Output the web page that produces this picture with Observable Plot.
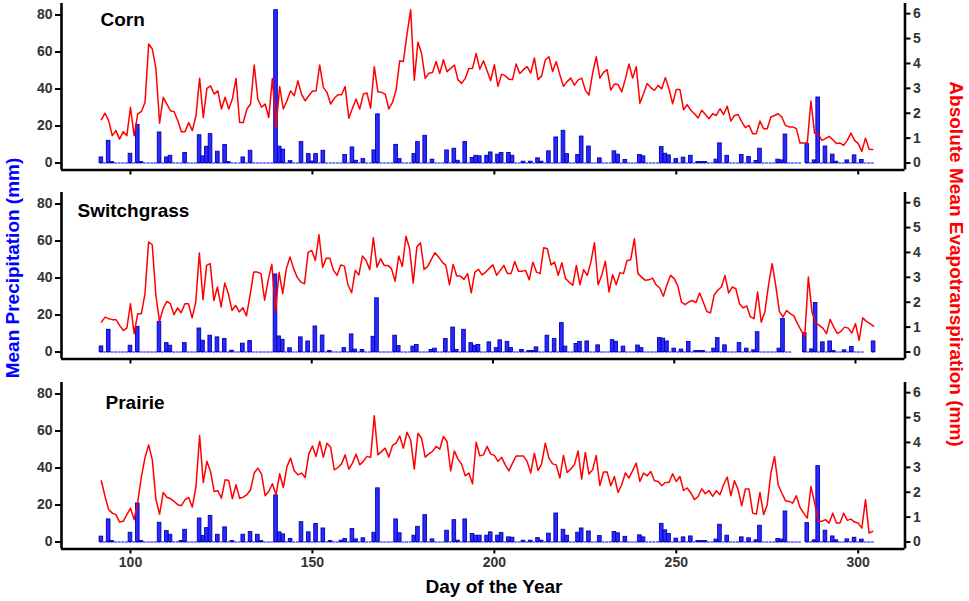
<!DOCTYPE html>
<html>
<head>
<meta charset="utf-8">
<script src="https://cdn.jsdelivr.net/npm/d3@7"></script>
<script src="https://cdn.jsdelivr.net/npm/@observablehq/plot@0.6"></script>
<style>
  body { margin: 0; background: #fff; }
  #wrap { position: relative; width: 969px; height: 601px; font-family: "Liberation Sans", Arial, sans-serif; overflow: hidden; }
  .panel { position: absolute; left: 0; }
  .title { position: absolute; font-weight: bold; font-size: 19px; line-height: 19px; white-space: nowrap; }
</style>
</head>
<body>
<div id="wrap"></div>
<script>
// ---------------- DATA ----------------
const panelNames = ["Corn", "Switchgrass", "Prairie"];
const xTicks = [100, 150, 200, 250, 300];
const precipTicks = [0, 20, 40, 60, 80];
const etTicks = [0, 1, 2, 3, 4, 5, 6];

// Daily absolute mean evapotranspiration (mm), starting at firstDay
const cornFirstDay = 92;
const cornET = [
  1.74, 2.0, 1.7, 1.1, 1.3, 0.96, 1.26, 1.1, 2.24, 1.1, 1.97, 2.07, 2.44, 4.78, 4.58, 3.78, 1.6, 2.64, 2.37, 2.1,
  2.06, 1.7, 1.26, 1.26, 1.63, 1.3, 1.9, 3.41, 1.83, 3.0, 3.1, 2.77, 2.9, 2.17, 2.64, 2.17, 2.57, 3.4, 1.63, 1.63,
  2.17, 2.37, 3.94, 2.57, 2.24, 2.37, 1.83, 3.4, 1.43, 3.07, 2.17, 2.5, 2.9, 2.7, 3.3, 2.77, 2.5, 2.7, 2.88, 2.9,
  3.94, 3.04, 2.84, 2.37, 2.6, 2.74, 2.74, 3.07, 1.8, 2.2, 2.57, 2.17,
  2.77, 2.81, 2.2, 3.87, 2.86, 2.84, 2.77, 2.17, 2.44, 2.93, 4.11, 4.08, 5.18, 6.16, 3.33, 4.85, 4.4, 3.4, 3.61, 3.64,
  4.08, 3.6, 4.15, 3.67, 3.8, 3.94, 3.35, 3.2, 3.4, 3.8, 3.8, 4.4, 3.77, 4.11, 3.71, 3.31, 3.95, 3.08, 3.57, 3.5,
  3.37, 3.35, 3.98, 3.6, 3.75, 3.87, 3.61, 4.22, 3.35, 3.5, 4.14, 4.27, 3.68, 4.07, 3.55, 3.08, 3.27, 3.41, 3.13, 3.33,
  3.41, 2.93, 2.73, 3.6, 4.27, 3.41, 3.64, 3.75, 2.93, 3.17, 3.15, 2.86, 3.37, 3.98, 3.41, 3.87, 2.4,
  2.78, 3.19, 3.03, 2.92, 3.12, 2.98, 3.43, 2.98, 2.38, 2.95, 2.95, 2.14, 2.34, 2.12, 1.98, 1.81, 2.12, 1.95, 1.78, 1.98,
  1.91, 2.18, 1.95, 2.28, 1.69, 1.91, 1.95, 1.65, 1.42, 1.51, 1.18, 1.18, 1.69, 1.38, 1.38, 1.85, 1.91, 1.98, 1.85, 1.51,
  1.45, 1.45, 1.38, 0.8, 0.8, 0.8, 2.49, 1.2, 1.18, 0.91, 0.98, 1.07, 0.94, 0.78, 0.8, 0.71, 0.91, 1.2, 0.91, 0.78,
  0.47, 1.0, 0.55, 0.54
];
const switchFirstDay = 92;
const switchET = [
  1.2, 1.4, 1.34, 1.3, 1.3, 1.07, 0.87, 0.96, 1.94, 0.74, 1.54, 1.54, 2.34, 4.42, 4.31, 2.28, 1.23, 1.74, 2.03, 1.94,
  1.5, 1.77, 1.58, 1.94, 1.94, 1.37, 2.0, 3.98, 2.1, 3.48, 3.55, 2.07, 2.61, 1.81, 2.77, 2.34, 1.67, 1.87, 1.61, 1.78,
  1.45, 2.3, 3.21, 3.21, 3.15, 2.08, 2.9, 3.53, 1.63, 3.2, 2.35, 3.35, 3.82, 3.35, 3.0, 2.81, 2.74, 4.0, 4.08, 3.68,
  4.71, 3.4, 3.77, 3.77, 3.28, 3.08,
  3.5, 3.45, 2.7, 2.38, 3.28, 3.1, 3.86, 3.68, 3.31, 4.59, 3.41, 3.75, 3.48, 3.48, 3.35, 2.84, 3.86, 3.44, 4.65, 4.15,
  2.77, 4.22, 4.39, 3.32, 3.44, 3.72, 3.99, 3.82, 3.61, 3.48, 2.7, 3.52, 3.05, 3.05, 2.92, 3.15, 2.38, 3.21, 3.32, 3.1,
  3.21, 3.37, 3.5, 3.08, 3.28, 3.48, 3.15, 3.15, 3.64, 3.24, 3.24, 3.28, 2.9, 3.61, 3.21, 3.15, 4.19, 4.15, 3.5, 3.61,
  3.08, 3.59, 2.95, 2.81, 2.68, 3.48, 2.7, 3.31, 3.08, 3.61, 4.39, 2.7, 3.08, 3.65, 2.41, 3.1, 2.7, 3.19, 3.15, 3.68,
  3.71, 4.55, 3.15,
  3.01, 2.88, 2.9, 2.97, 2.7, 2.57, 2.24, 2.7, 3.08, 2.95, 2.65, 2.01, 1.9, 2.01, 2.07, 1.98, 2.37, 2.01, 1.63, 1.57,
  2.28, 2.48, 2.61, 3.08, 2.37, 2.61, 2.54, 1.94, 1.77, 1.85, 1.41, 1.34, 2.41, 1.2, 1.61, 2.68, 3.55, 2.68, 1.63, 1.41,
  1.67, 1.54, 1.45, 1.14, 0.87, 0.6, 3.01, 1.61, 1.18, 1.07, 0.96, 0.74, 1.31, 1.0, 0.74, 0.83, 1.0, 0.96, 0.76, 1.14,
  0.47, 1.37, 1.23, 1.14, 1.04
];
const prairieFirstDay = 92;
const prairieET = [
  2.46, 1.83, 1.3, 1.16, 1.1, 0.8, 0.83, 1.1, 1.36, 0.9, 1.63, 2.63, 3.4, 3.9, 3.3, 1.7, 1.12, 1.99, 1.8, 1.74,
  1.63, 1.5, 1.46, 1.7, 1.79, 1.4, 2.23, 4.28, 2.39, 3.24, 2.83, 2.03, 2.06, 1.76, 2.5, 2.47, 1.74, 2.3, 1.76, 1.8,
  1.9, 2.1, 2.77, 2.97, 2.74, 1.86, 2.03, 2.34, 1.9, 2.74, 2.19, 3.03, 3.37, 2.86, 2.7, 2.77, 2.59, 3.54, 3.86, 3.44,
  4.04, 3.41, 3.97, 3.81, 2.9, 2.99, 3.14, 3.5, 2.93, 3.17, 3.53, 3.1,
  3.24, 3.44, 3.4, 5.07, 3.5, 3.64, 3.77, 3.41, 3.88, 3.97, 4.26, 3.77, 4.41, 4.1, 2.93, 4.37, 4.17, 3.41, 3.54, 3.64,
  3.84, 3.73, 4.24, 4.04, 2.86, 3.66, 3.33, 3.13, 2.66, 2.77, 2.34, 4.01, 3.46, 3.5, 3.84, 3.53, 3.48, 3.24, 3.4, 3.1,
  2.86, 3.17, 3.46, 3.46, 3.46, 3.24, 2.77, 3.57, 2.87, 3.14, 3.97, 3.37, 3.14, 3.1, 2.57, 3.48, 2.79, 2.93, 3.1, 3.66,
  2.53, 3.6, 2.73, 2.9, 3.48, 2.27, 2.81, 2.81, 2.26, 2.63, 1.99, 2.3, 2.77, 2.57, 2.87, 3.17, 2.43,
  2.77, 2.66, 2.83, 2.46, 2.43, 2.26, 2.39, 2.39, 2.74, 2.43, 2.63, 2.07, 2.17, 1.97, 1.7, 1.83, 2.14, 1.94, 2.07, 1.83,
  2.06, 1.9, 2.3, 2.61, 1.86, 2.46, 2.1, 1.46, 2.13, 2.13, 1.16, 1.12, 1.99, 1.1, 1.5, 2.77, 3.44, 2.3, 1.97, 1.66,
  1.63, 1.56, 1.86, 1.39, 1.16, 0.96, 2.23, 1.59, 0.83, 0.83, 0.9, 0.76, 1.16, 0.76, 0.76, 1.16, 0.87, 0.92, 0.8, 0.76,
  0.56, 1.7, 0.36, 0.43
];

// Rain days (day of year) and mean precipitation (mm); other days are 0
const cornRainDays = [92, 94, 95, 100, 102, 103, 108, 110, 111, 115, 119, 120, 121, 122, 124, 126, 127, 131, 133, 140,
  141, 142, 144, 147, 149, 150, 151, 153, 159, 161, 162, 164, 167, 168, 173, 174, 178, 179, 181, 183,
  187, 189, 190, 192, 194, 195, 196, 198, 199, 201, 202, 204, 205, 208, 210, 212, 213, 215, 217, 219,
  220, 223, 224, 226, 229, 233, 234, 236, 240, 241, 246, 247, 248, 250, 252, 254, 256, 257, 258, 261,
  262, 264, 268, 270, 272, 273, 278, 279, 280, 286, 288, 289, 291, 293, 294, 297, 299, 301];
const cornRain = [3.0, 12.0, 0.5, 5.0, 20.6, 0.5, 16.5, 3.0, 3.9, 5.4, 15.0, 3.6, 8.8, 15.6, 6.1, 9.7, 0.5, 3.0, 6.6, 82.6,
  8.8, 7.2, 1.0, 11.3, 4.8, 0.8, 4.8, 6.6, 4.3, 8.4, 1.2, 2.1, 6.8, 26.3, 9.8, 2.1, 4.8, 11.3, 14.7, 1.8,
  6.8, 7.7, 1.2, 11.3, 2.7, 3.9, 3.6, 3.9, 5.7, 4.5, 5.4, 5.4, 3.9, 0.7, 0.7, 2.5, 0.7, 6.3, 13.8, 17.4,
  4.8, 4.3, 14.3, 8.9, 2.5, 6.3, 4.5, 1.6, 4.3, 3.6, 8.6, 5.0, 4.1, 2.1, 2.9, 3.9, 0.5, 0.5, 0.5, 1.8,
  10.6, 3.9, 4.3, 3.2, 1.1, 7.7, 1.8, 1.4, 15.4, 10.2, 1.4, 35.4, 8.9, 4.5, 0.7, 1.4, 4.1, 1.6];
const cornMissing = [285];

const switchRainDays = [92, 94, 100, 102, 108, 110, 111, 115, 119, 120, 122, 124, 126, 128, 131, 133, 140, 141, 142, 144,
  147, 149, 151, 153, 155, 159, 161, 162, 164, 167, 168, 173, 174, 178, 179, 183, 184, 187, 189, 190,
  192, 194, 195, 196, 199, 201, 202, 204, 205, 208, 210, 211, 212, 215, 217, 219, 220, 223, 224, 226,
  229, 233, 234, 236, 240, 241, 246, 247, 248, 250, 252, 254, 256, 257, 258, 261, 262, 264, 268, 270,
  272, 273, 279, 280, 286, 288, 289, 291, 293, 294, 297, 299, 305];
const switchRain = [3.0, 12.0, 3.4, 13.6, 16.3, 4.8, 3.4, 4.8, 12.7, 6.1, 8.8, 7.9, 7.0, 0.7, 4.5, 5.9, 41.9, 8.4, 6.6, 2.0,
  7.9, 5.7, 13.8, 8.9, 0.5, 2.1, 9.5, 1.3, 1.1, 8.2, 29.0, 8.8, 3.2, 2.9, 3.8, 1.1, 1.8, 7.0, 13.2, 1.1,
  12.0, 4.8, 3.4, 3.8, 5.2, 2.1, 6.3, 5.4, 2.1, 1.1, 0.5, 0.5, 2.5, 8.8, 7.0, 15.6, 2.9, 4.3, 5.4, 5.7,
  3.6, 6.4, 5.5, 2.9, 3.5, 2.1, 7.5, 7.2, 5.7, 1.8, 1.3, 5.4, 0.5, 0.5, 0.5, 1.8, 7.5, 3.6, 4.8, 1.8,
  0.9, 10.7, 1.8, 17.9, 10.2, 1.4, 26.5, 5.2, 5.7, 0.5, 0.9, 2.7, 5.7];
const switchMissing = [283, 284, 285, 303, 304];

const prairieRainDays = [92, 94, 95, 100, 102, 103, 108, 110, 111, 114, 115, 119, 120, 121, 122, 124, 126, 128, 131, 133,
  135, 136, 140, 141, 142, 144, 147, 149, 151, 153, 155, 158, 159, 161, 162, 164, 167, 168, 173, 174,
  178, 179, 181, 183, 187, 189, 190, 192, 194, 195, 196, 198, 199, 201, 202, 204, 205, 208, 210, 212,
  213, 215, 217, 219, 220, 223, 224, 226, 229, 233, 234, 236, 240, 241, 246, 247, 248, 250, 252, 254,
  256, 257, 258, 261, 262, 264, 268, 270, 272, 273, 278, 279, 280, 286, 288, 289, 291, 293, 294, 297,
  299, 301];
const prairieRain = [2.9, 12.2, 0.5, 5.0, 20.8, 0.5, 10.4, 5.9, 3.9, 0.5, 6.6, 12.7, 3.2, 7.5, 14.1, 3.9, 7.9, 0.5, 3.9, 5.4,
  3.9, 0.5, 25.2, 5.2, 4.1, 1.6, 10.7, 5.2, 9.7, 7.3, 0.5, 0.7, 1.6, 7.0, 1.4, 2.0, 5.0, 29.0, 12.2, 4.7,
  3.4, 8.2, 14.5, 1.4, 6.1, 11.8, 0.7, 12.2, 4.3, 3.4, 3.4, 3.4, 5.2, 3.4, 4.8, 2.5, 2.3, 0.7, 0.7, 2.1,
  0.7, 4.5, 15.4, 6.6, 3.4, 5.0, 7.3, 5.7, 3.2, 5.4, 4.7, 2.8, 3.6, 2.5, 9.8, 6.3, 4.3, 1.8, 2.5, 3.0,
  0.5, 0.5, 0.5, 1.3, 9.3, 3.4, 2.5, 2.0, 0.9, 8.8, 1.6, 1.3, 16.5, 10.2, 0.9, 41.0, 6.1, 3.0, 0.9, 1.4,
  2.3, 1.3];
const prairieMissing = [285];

// ---------------- LAYOUT ----------------
const K = 13.45;               // mm of left scale per 1 mm of ET on right scale
const yDomain = [-3.78, 86.2];
const panels = [
  { name: panelNames[0], first: cornFirstDay, et: cornET, rd: cornRainDays, rv: cornRain, miss: cornMissing,
    top: 0, xDomain: [81.04, 312.86], dx: 39, dy: 8.7, last: false },
  { name: panelNames[1], first: switchFirstDay, et: switchET, rd: switchRainDays, rv: switchRain, miss: switchMissing,
    top: 189, xDomain: [80.97, 313.66], dx: 16, dy: 11.3, last: false },
  { name: panelNames[2], first: prairieFirstDay, et: prairieET, rd: prairieRainDays, rv: prairieRain, miss: prairieMissing,
    top: 378.5, xDomain: [81.04, 312.86], dx: 44, dy: 12.5, last: true }
];

const wrap = document.getElementById("wrap");
const FONT = "'Liberation Sans', Arial, sans-serif";

for (const p of panels) {
  const lastDay = Math.max(p.first + p.et.length - 1, d3.max(p.rd));
  const etData = p.et.map((v, j) => ({ day: p.first + j, et: v }));
  const rain = p.rd.map((d, j) => ({ day: d, mm: p.rv[j] }));
  const base = d3.range(p.first, lastDay + 1).filter(d => !p.miss.includes(d)).map(d => ({ day: d }));
  const H = p.last ? 200 : 190;
  const chart = Plot.plot({
    width: 969, height: H,
    marginLeft: 61, marginRight: 64.5, marginTop: 3, marginBottom: H - 169.5,
    x: { domain: p.xDomain },
    y: { domain: yDomain },
    style: { fontFamily: FONT, background: "transparent", overflow: "visible" },
    marks: [
      Plot.ruleY(base, { y: 0, x1: d => d.day - 0.42, x2: d => d.day + 0.42, stroke: "#1a1aff", strokeWidth: 1.1 }),
      Plot.rect(rain, { x1: d => d.day - 0.5, x2: d => d.day + 0.5, y1: 0, y2: "mm",
        fill: "#2a2aff", stroke: "#0000b4", strokeWidth: 0.9 }),
      Plot.line(etData, { x: "day", y: d => d.et * K, stroke: "#ff0000", strokeWidth: 1.5 }),
      Plot.axisY(precipTicks, { anchor: "left", tickSize: 6, tickPadding: 3, strokeWidth: 2, stroke: "#000",
        fill: "#333", fontSize: 14, fontWeight: "bold", label: null, tickFormat: d => d }),
      Plot.axisY(etTicks.map(v => v * K), { anchor: "right", tickSize: 5, tickPadding: 3, strokeWidth: 2, stroke: "#000",
        fill: "#333", fontSize: 14, fontWeight: "bold", label: null, tickFormat: v => Math.round(v / K) }),
      Plot.axisX(xTicks, { anchor: "bottom", tickSize: 5, tickPadding: 3.5, strokeWidth: 2, stroke: "#000",
        fill: "#333", fontSize: 14, fontWeight: "bold", label: null,
        tickFormat: p.last ? (d => d) : (() => "") }),
      Plot.ruleX([p.xDomain[0]], { stroke: "#000", strokeWidth: 2.6 }),
      Plot.ruleX([p.xDomain[1]], { stroke: "#000", strokeWidth: 2.6 }),
      Plot.ruleY([yDomain[0]], { stroke: "#000", strokeWidth: 2.6, x1: p.xDomain[0], x2: p.xDomain[1] }),
      Plot.text([p.name], { frameAnchor: "top-left", textAnchor: "start", lineAnchor: "top",
        dx: p.dx, dy: p.dy, fontSize: 19, fontWeight: "bold", fill: "#000", text: d => d })
    ]
  });
  chart.classList.add("panel");
  chart.style.top = p.top + "px";
  wrap.appendChild(chart);
}

function addTitle(text, color, cx, cy, rot) {
  const el = document.createElement("div");
  el.className = "title";
  el.textContent = text;
  el.style.color = color;
  el.style.left = cx + "px";
  el.style.top = cy + "px";
  el.style.transform = `translate(-50%, -50%) rotate(${rot}deg)`;
  wrap.appendChild(el);
}
addTitle("Mean Precipitation (mm)", "#0000ff", 12, 268, -90);
addTitle("Absolute Mean Evapotranspiration (mm)", "#ff0000", 955.5, 264, 90);
addTitle("Day of the Year", "#000", 494, 586, 0);
</script>
</body>
</html>
